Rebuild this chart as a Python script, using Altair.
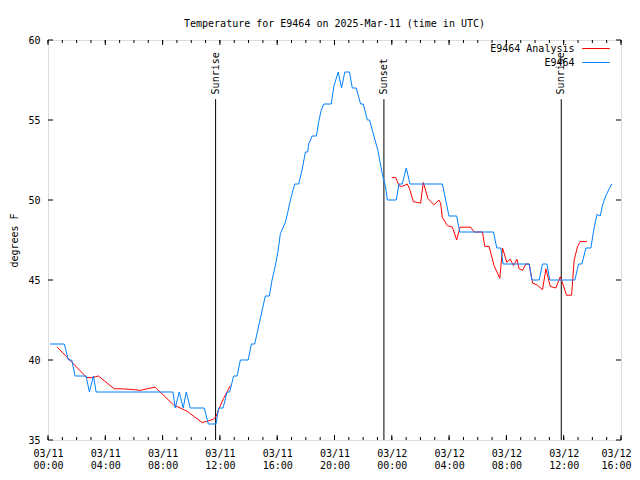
import altair as alt
import pandas as pd

# ---------------- data ----------------
# observations "E9464": hours since 2025-03-11 00:00 UTC, degrees F
obs_hours = [0.14, 1.14, 1.42, 1.66, 1.89, 2.66, 2.89, 3.17, 3.36, 8.72, 8.88, 9.16, 9.44,
             9.65, 9.93, 10.91, 11.19, 11.73, 11.91, 12.22, 12.50, 12.68, 12.96, 13.20,
             13.43, 13.97, 14.20, 14.43, 15.17, 15.45, 15.64, 15.87, 16.06, 16.22, 16.57,
             16.73, 16.87, 17.04, 17.22, 17.50, 17.74, 17.97, 18.13, 18.20, 18.44, 18.74,
             18.90, 19.07, 19.25, 19.77, 19.95, 20.26, 20.49, 20.72, 21.05, 21.24, 21.52,
             21.82, 22.01, 22.29, 22.45, 22.75, 23.03, 23.34, 23.57, 23.69, 24.31, 24.50,
             24.73, 25.01, 25.27, 27.53, 27.99, 28.53, 28.74, 31.10, 31.33, 31.61, 31.77,
             33.59, 33.78, 34.29, 34.52, 34.83, 35.03, 36.78, 37.04, 37.27, 37.55, 37.90,
             38.09, 38.32, 38.55, 38.72, 38.95, 39.18, 39.35]
obs_temp = [41, 41, 40, 40, 39, 39, 38, 39, 38, 38, 37, 38, 37,
            38, 37, 37, 36, 36, 37, 37, 38, 38, 39, 39,
            40, 40, 41, 41, 44, 44, 45, 45.9, 46.8, 47.9, 48.6,
            49.2, 49.8, 50.4, 51, 51, 51.9, 53, 53, 53.5, 54, 54,
            54.9, 55.6, 56, 56, 57.1, 58, 57, 58, 58, 57, 57,
            56, 56, 55, 55, 54, 53.1, 51.6, 50.8, 50, 50, 51,
            51, 52, 51, 51, 49, 49, 48, 48, 47, 47, 46,
            46, 45, 45, 46, 46, 45, 45, 46, 46, 47, 47,
            48.1, 49.1, 49, 49.7, 50.3, 50.7, 51]

# analysis "E9464 Analysis" (two drawn pieces)
ana_hours_a = [0.65, 2.71, 3.08, 3.52, 4.62, 5.15, 5.97, 6.43, 6.90, 7.48, 8.76, 9.70,
               10.75, 11.05, 11.56, 11.75, 11.91, 12.26, 12.73]
ana_temp_a = [40.8, 38.9, 38.9, 39.0, 38.2, 38.2, 38.15, 38.1, 38.2, 38.3, 37.2, 36.8,
              36.1, 36.15, 36.3, 36.5, 36.9, 37.6, 38.4]
ana_hours_b = [23.99, 24.27, 24.50, 24.66, 24.85, 25.08, 25.24, 25.50, 26.01, 26.20, 26.52,
               26.94, 27.29, 27.41, 27.53, 27.88, 28.23, 28.53, 28.76, 29.51, 29.74, 30.33,
               30.49, 30.79, 31.14, 31.54, 31.73, 32.03, 32.26, 32.50, 32.73, 32.89, 33.13,
               33.36, 33.59, 33.83, 34.13, 34.52, 34.76, 35.06, 35.45, 35.76, 35.85, 36.20,
               36.55, 36.73, 36.97, 37.15, 37.62]
ana_temp_b = [51.4, 51.4, 50.9, 50.85, 50.9, 51.0, 50.7, 49.9, 49.8, 51.1, 50.1,
              49.7, 50.0, 49.8, 48.9, 48.4, 48.3, 47.5, 48.3, 48.3, 48.0, 48.0,
              47.1, 47.1, 45.9, 45.1, 47.0, 46.1, 46.3, 45.9, 46.3, 45.7, 45.6,
              46.0, 46.0, 44.8, 44.7, 44.4, 45.7, 44.6, 44.5, 45.2, 45.0, 44.05,
              44.05, 46.25, 47.1, 47.4, 47.4]

sun_hours = [11.70, 23.45, 35.83]
sun_labels = ["Sunrise", "Sunset", "Sunrise"]
sun_line_top = 56.3
sun_text_base = 56.6
axis_floor = 35

x_major = [0, 4, 8, 12, 16, 20, 24, 28, 32, 36, 40]
x_minor = list(range(0, 41))
x_dates = ["03/11", "03/11", "03/11", "03/11", "03/11", "03/11",
           "03/12", "03/12", "03/12", "03/12", "03/12"]
x_times = ["00:00", "04:00", "08:00", "12:00", "16:00", "20:00",
           "00:00", "04:00", "08:00", "12:00", "16:00"]
y_ticks = [35, 40, 45, 50, 55, 60]

series_names = ["E9464 Analysis", "E9464"]
series_colors = ["#ff0000", "#0080ff"]

FONT = "DejaVu Sans Mono"
W, H = 573, 400

# ---------------- tables ----------------
obs = pd.DataFrame({"hour": obs_hours, "temp": obs_temp, "series": series_names[1]})
ana = pd.concat([
    pd.DataFrame({"hour": ana_hours_a, "temp": ana_temp_a, "seg": 0, "series": series_names[0]}),
    pd.DataFrame({"hour": ana_hours_b, "temp": ana_temp_b, "seg": 1, "series": series_names[0]}),
])
sun = pd.DataFrame({"hour": sun_hours, "label": sun_labels,
                    "temp": sun_line_top, "floor": axis_floor, "textpos": sun_text_base})
xmaj = pd.DataFrame({"hour": x_major})
xmin = pd.DataFrame({"hour": x_minor})
ytk = pd.DataFrame({"temp": y_ticks})

label_expr = "[" + ",".join(f"['{d}','{t}']" for d, t in zip(x_dates, x_times)) + "][round(datum.value / 4)]"

X = alt.X("hour:Q", title=None,
          scale=alt.Scale(domain=[0, 40], nice=False, zero=False),
          axis=alt.Axis(values=x_major, labelExpr=label_expr, ticks=False, domain=False,
                        grid=False, labelFont=FONT, labelFontSize=10, labelColor="black",
                        labelPadding=8, labelLineHeight=12, labelBaseline="top",
                        labelFlush=False, labelOverlap=False,
                        labelOffset={"expr": "datum.value == 40 ? -5 : 0"}))
Y = alt.Y("temp:Q", title="degrees F",
          scale=alt.Scale(domain=[35, 60], nice=False, zero=False),
          axis=alt.Axis(values=y_ticks, ticks=False, domain=False, grid=False,
                        labelFont=FONT, labelFontSize=10, labelColor="black",
                        labelPadding=8, titleFont=FONT, titleFontSize=10,
                        titleFontWeight="normal", titleColor="black", titleAngle=270,
                        titleX=-34, titleY=H / 2, titleAlign="center",
                        titleBaseline="middle"))
COLOR = alt.Color("series:N", scale=alt.Scale(domain=series_names, range=series_colors),
                  legend=alt.Legend(orient="none", legendX=542, legendY=2.5, title=None,
                                    symbolType="M-2.5,0H2.5", symbolSize=121,
                                    symbolStrokeWidth=1, labelAlign="right",
                                    labelOffset={"expr": "-27.5"}, labelFont=FONT,
                                    labelFontSize=10, labelColor="black", rowPadding=3))

red = alt.Chart(ana).mark_line(strokeWidth=1, interpolate="linear").encode(
    x=X, y=Y, color=COLOR, detail="seg:N")
blue = alt.Chart(obs).mark_line(strokeWidth=1, interpolate="linear").encode(
    x=X, y=Y, color=COLOR)

sun_rules = alt.Chart(sun).mark_rule(color="black", strokeWidth=1).encode(
    x=X, y=Y, y2="floor:Q")
sun_text = alt.Chart(sun).mark_text(angle=270, align="left", baseline="middle",
                                    font=FONT, fontSize=10, color="black").encode(
    x=X, y=alt.Y("textpos:Q", scale=alt.Scale(domain=[35, 60], nice=False, zero=False)),
    text="label:N")

tk = dict(color="black", strokeWidth=1)
tb_major = alt.Chart(xmaj).mark_rule(**tk).encode(x=X, y=alt.value(H), y2=alt.value(H - 5))
tt_major = alt.Chart(xmaj).mark_rule(**tk).encode(x=X, y=alt.value(0), y2=alt.value(5))
tb_minor = alt.Chart(xmin).mark_rule(**tk).encode(x=X, y=alt.value(H), y2=alt.value(H - 3))
tt_minor = alt.Chart(xmin).mark_rule(**tk).encode(x=X, y=alt.value(0), y2=alt.value(3))
tl = alt.Chart(ytk).mark_rule(**tk).encode(y=Y, x=alt.value(0), x2=alt.value(5))
tr = alt.Chart(ytk).mark_rule(**tk).encode(y=Y, x=alt.value(W), x2=alt.value(W - 5))

chart = alt.layer(
    tb_minor, tt_minor, tb_major, tt_major, tl, tr, sun_rules, sun_text, red, blue
).properties(
    width=W, height=H,
    title=alt.TitleParams("Temperature for E9464 on 2025-Mar-11 (time in UTC)",
                          font=FONT, fontSize=10, fontWeight="normal", color="black",
                          anchor="middle", frame="group", offset=16, dy=18,
                          baseline="alphabetic"),
    autosize=alt.AutoSizeParams(type="none"),
    padding={"left": 40, "top": 32, "right": 11, "bottom": 32},
).configure_view(stroke="black", strokeWidth=1).configure(background="white")

chart.save("out.html", embed_options={"renderer": "svg", "actions": False})
